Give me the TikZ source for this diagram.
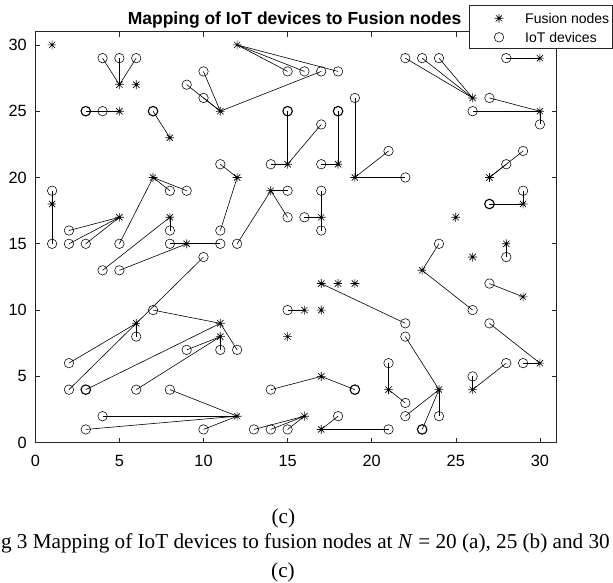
\documentclass[tikz,border=0pt]{standalone}
\usepackage{fontspec}
\setmainfont{Liberation Serif}
\setsansfont{Liberation Sans}
\begin{document}
\begin{tikzpicture}[
  fmark/.style={circle, inner sep=0pt, minimum size=9pt,
    path picture={\draw[line width=0.65pt]
      (path picture bounding box.north) -- (path picture bounding box.south)
      (path picture bounding box.east) -- (path picture bounding box.west)
      (path picture bounding box.north east) -- (path picture bounding box.south west)
      (path picture bounding box.north west) -- (path picture bounding box.south east);}},
  dmark/.style={circle, draw, inner sep=0pt, minimum size=9.5pt, line width=0.55pt},
  dthick/.style={dmark, line width=1.1pt},
  link/.style={line width=0.6pt},
  axisline/.style={draw=black!85, line width=0.6pt},
  ticklab/.style={font=\sffamily\fontsize{16.3}{19}\selectfont, inner sep=0pt},
  legtext/.style={font=\sffamily\fontsize{14}{16}\selectfont, inner sep=0pt, anchor=west},
  captext/.style={font=\fontsize{21.2}{24}\selectfont, inner sep=0pt},
]
\useasboundingbox (0pt,0pt) rectangle (613pt,583pt);

\begin{scope}[shift={(35.3pt,140.3pt)}, x=16.82pt, y=13.26pt]
  % axes box
  \coordinate (bl) at (0,0);
  \coordinate (tr) at (31,31);
  \draw[axisline] (bl) rectangle (tr);
  \foreach \k in {0,5,...,30} {
    \draw[axisline] (\k,0) -- ++(0,5pt);
    \draw[axisline] (\k,31) -- ++(0,-5pt);
    \draw[axisline] (0,\k) -- ++(5pt,0);
    \draw[axisline] (31,\k) -- ++(-5pt,0);
    \node[ticklab] (xl\k) at ([yshift=-18.5pt]\k,0) {\k};
    \node[ticklab, anchor=east] (yl\k) at ([xshift=-8.3pt]0,\k) {\k};
  }

  % fusion nodes
  \foreach \a/\b in {1/30, 5/27, 6/27, 5/25, 8/23, 11/25, 12/30, 15/21, 18/21, 19/20,
      12/20, 14/19, 17/17, 26/26, 30/29, 30/25, 27/20, 29/18, 25/17, 1/18, 7/20, 5/17,
      8/17, 9/15, 6/9, 11/9, 11/8, 12/2, 17/12, 18/12, 19/12, 16/10, 17/10, 15/8, 17/5,
      21/4, 24/4, 16/2, 17/1, 23/13, 26/14, 28/15, 29/11, 30/6, 26/4}
    \node[fmark] (f\a x\b) at (\a,\b) {};

  % IoT devices
  \foreach \a/\b in {4/29, 5/29, 6/29, 4/25, 9/27, 10/28, 10/26, 17/28, 15/28, 16/28,
      18/28, 14/21, 17/24, 17/21, 19/26, 21/22, 22/20, 11/21, 11/16, 15/19, 15/17, 12/15,
      16/17, 17/19, 17/16, 22/29, 23/29, 24/29, 28/29, 27/26, 26/25, 30/24, 28/21, 29/22,
      29/19, 1/19, 1/15, 8/19, 9/19, 5/15, 2/16, 2/15, 3/15, 8/16, 4/13, 8/15, 11/15,
      5/13, 10/14, 2/4, 2/6, 6/8, 7/10, 12/7, 9/7, 11/7, 6/4, 8/4, 4/2, 3/1, 10/1, 22/9,
      15/10, 14/4, 21/6, 22/3, 22/8, 22/2, 24/2, 13/1, 14/1, 15/1, 18/2, 21/1, 24/15,
      26/10, 28/14, 27/12, 27/9, 29/6, 26/5, 28/6}
    \node[dmark] (d\a x\b) at (\a,\b) {};
  \foreach \a/\b in {3/25, 7/25, 15/25, 18/25, 27/18, 3/4, 19/4, 23/1}
    \node[dthick] (d\a x\b) at (\a,\b) {};

  % mapping links
  \foreach \sa/\sb/\da/\db in {5/27/4/29, 5/27/5/29, 5/27/6/29,
      5/25/3/25, 5/25/4/25, 8/23/7/25,
      11/25/9/27, 11/25/10/28, 11/25/10/26, 11/25/17/28,
      12/30/15/28, 12/30/16/28, 12/30/18/28,
      15/21/15/25, 15/21/14/21, 15/21/17/24,
      18/21/18/25, 18/21/17/21,
      19/20/19/26, 19/20/21/22, 19/20/22/20,
      12/20/11/21, 12/20/11/16,
      14/19/15/19, 14/19/15/17, 14/19/12/15,
      17/17/16/17, 17/17/17/19, 17/17/17/16,
      26/26/22/29, 26/26/23/29, 26/26/24/29,
      30/29/28/29, 30/25/27/26, 30/25/26/25, 30/25/30/24,
      27/20/28/21, 27/20/29/22, 29/18/27/18, 29/18/29/19,
      1/18/1/19, 1/18/1/15,
      7/20/8/19, 7/20/9/19, 7/20/5/15,
      5/17/2/16, 5/17/2/15, 5/17/3/15,
      8/17/8/16, 8/17/4/13,
      9/15/8/15, 9/15/11/15, 9/15/5/13,
      6/9/10/14, 6/9/2/4, 6/9/2/6, 6/9/6/8,
      11/9/7/10, 11/9/3/4, 11/9/12/7,
      11/8/9/7, 11/8/11/7, 11/8/6/4,
      12/2/8/4, 12/2/4/2, 12/2/3/1, 12/2/10/1,
      17/12/22/9, 16/10/15/10,
      17/5/14/4, 17/5/19/4,
      21/4/21/6, 21/4/22/3,
      24/4/22/8, 24/4/22/2, 24/4/23/1, 24/4/24/2,
      16/2/13/1, 16/2/14/1, 16/2/15/1,
      17/1/18/2, 17/1/21/1,
      23/13/24/15, 23/13/26/10,
      28/15/28/14, 29/11/27/12,
      30/6/27/9, 30/6/29/6,
      26/4/26/5, 26/4/28/6}
    \draw[link] (f\sa x\sb.center) -- (d\da x\db.center);
\end{scope}

% title
\node[font=\sffamily\bfseries\fontsize{17.5}{20}\selectfont, inner sep=0pt] (title)
  at (294.5pt,563pt) {Mapping of IoT devices to Fusion nodes};

% legend
\node[draw=black!85, fill=white, line width=0.6pt, minimum width=143pt, minimum height=43pt,
  anchor=north west, inner sep=0pt] (legbox) at (469pt,578pt) {};
\node[fmark] (legf) at (499pt,564.7pt) {};
\node[legtext] (legft) at (525pt,564.7pt) {Fusion nodes};
\node[dmark] (legd) at (499pt,545.7pt) {};
\node[legtext] (legdt) at (525pt,545.7pt) {IoT devices};

% caption
\node[captext] (cap1) at (283.3pt,64.7pt) {(c)};
\node[captext, anchor=east] (cap2) at (610pt,39.7pt)
  {g 3 Mapping of IoT devices to fusion nodes at \textit{N} = 20 (a), 25 (b) and 30};
\node[captext] (cap3) at (283pt,10.3pt) {(c)};
\end{tikzpicture}
\end{document}
